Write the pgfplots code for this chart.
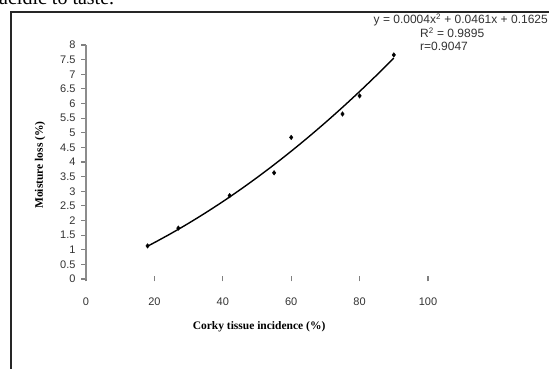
\documentclass[border=0pt]{standalone}
\usepackage{pgfplots}
\pgfplotsset{compat=1.18}
\usepackage{fontspec}
\setmainfont{Liberation Serif}
\setsansfont{Liberation Sans}
\begin{document}
\begin{tikzpicture}
\path[use as bounding box] (0pt,0pt) rectangle (549pt,369pt);
\fill[white] (0pt,0pt) rectangle (549pt,369pt);
\node[anchor=base west, font=\fontsize{20}{20}\selectfont, inner sep=0] at (-1pt,364.5pt) {acidic to taste.};
\draw[line width=2.5pt, black!85] (11pt,-5pt) -- (11pt,357pt) -- (560pt,357pt);
\node[anchor=east, inner sep=0, font=\sffamily\fontsize{12}{12}\selectfont, text=black!80] at (548pt,349pt) {y = 0.0004x\textsuperscript{2} + 0.0461x + 0.1625};
\node[anchor=west, inner sep=0, font=\sffamily\fontsize{12}{12}\selectfont, text=black!80] at (420pt,336pt) {R\textsuperscript{2} = 0.9895};
\node[anchor=west, inner sep=0, font=\sffamily\fontsize{12}{12}\selectfont, text=black!80] at (420pt,323pt) {r=0.9047};
\begin{axis}[
  at={(86pt,90pt)}, anchor=south west, scale only axis,
  width=342pt, height=234pt,
  xmin=0, xmax=100, ymin=0, ymax=8,
  clip=false,
  axis x line*=bottom, axis y line*=left,
  x axis line style={draw=none,-},
  y axis line style={black!45, line width=2pt, -},
  xtick={0,20,...,100},
  ytick={0,0.5,...,8},
  tick align=outside,
  major tick length=5pt,
  tick style={black!50, line width=1.2pt},
  x tick style={yshift=2.5pt},
  /pgf/number format/assume math mode=true,
  ticklabel style={font=\sffamily\fontsize{11}{11}\selectfont, text=black!80},
  yticklabel style={xshift=-2pt},
  xticklabel style={yshift=-10pt},
  ylabel={\textbf{Moisture loss (\%)}},
  xlabel={\textbf{Corky tissue incidence (\%)}},
  label style={font=\fontsize{11.5}{12}\selectfont},
  ylabel style={at={(axis description cs:-0.1345,0.487)}, anchor=center},
  xlabel style={at={(axis description cs:0.506,-0.205)}, anchor=center},
]
\addplot[black, line width=1.4pt, smooth] coordinates {
(18,1.1219) (20,1.2445) (25,1.565) (30,1.9055) (35,2.266) (40,2.6465)
(45,3.047) (50,3.4675) (55,3.908) (60,4.3685) (65,4.849) (70,5.3495)
(75,5.87) (80,6.4105) (85,6.971) (90,7.5515)};
\addplot[only marks, mark=diamond*, mark size=2.3pt, black] coordinates {
(18,1.13) (27,1.74) (42,2.85) (55,3.63) (60,4.84) (75,5.64) (80,6.26) (90,7.66)};
\end{axis}
\end{tikzpicture}
\end{document}
